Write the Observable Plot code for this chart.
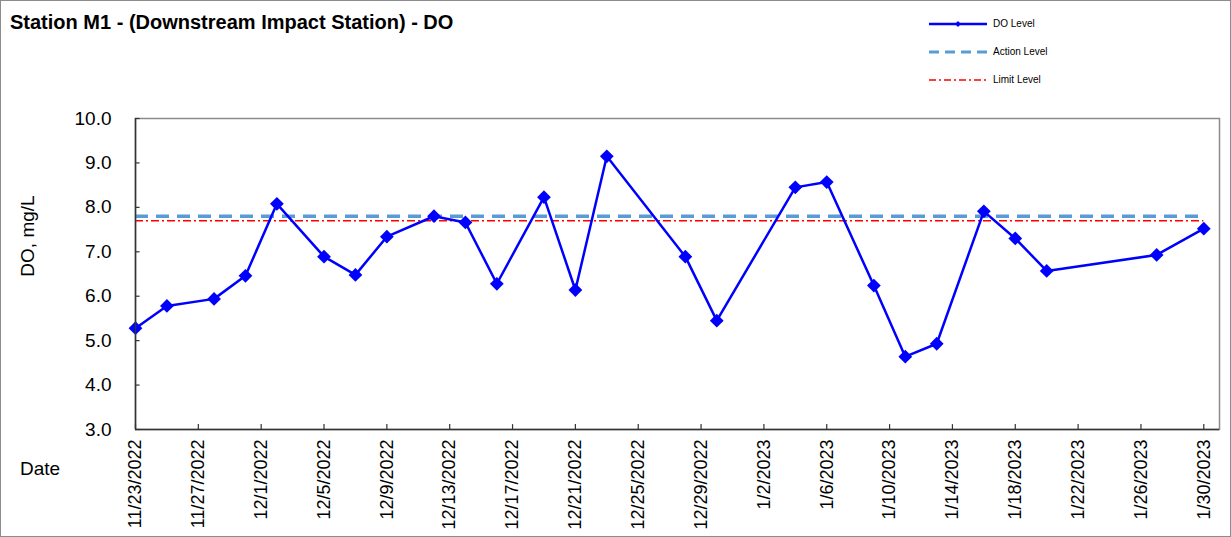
<!DOCTYPE html>
<html>
<head>
<meta charset="utf-8">
<script src="https://cdn.jsdelivr.net/npm/d3@7"></script>
<script src="https://cdn.jsdelivr.net/npm/@observablehq/plot@0.6"></script>
<style>
  body { margin: 0; background: #fff; font-family: Arial, "Liberation Sans", sans-serif; }
  #wrap { position: relative; width: 1231px; height: 537px; overflow: hidden; background: #fff; }
  #border { position: absolute; left: 0; top: 0; width: 1229px; height: 535px; border: 1px solid #8c8c8c; pointer-events: none; }
  #chart { position: absolute; left: 0; top: 0; }
  #title { position: absolute; left: 10px; top: 11px; font-weight: bold; font-size: 20px; color: #000; white-space: nowrap; }
  #ylabel { position: absolute; left: 28px; top: 236px; transform: translate(-50%, -50%) rotate(-90deg); font-size: 19px; white-space: nowrap; }
  #xlabel { position: absolute; left: 20px; top: 458px; font-size: 19px; }
  .leg { position: absolute; left: 929px; font-size: 10px; color: #000; }
  .leg svg { position: absolute; left: 0; top: -5px; }
  .leg span { position: absolute; left: 64px; top: -6px; white-space: nowrap; }
</style>
</head>
<body>
<div id="wrap">
  <div id="chart"></div>
  <div id="title">Station M1 - (Downstream Impact Station) - DO</div>
  <div id="ylabel">DO, mg/L</div>
  <div id="xlabel">Date</div>
  <div class="leg" style="top:24px"><svg width="60" height="10"><line x1="0" y1="5" x2="58" y2="5" stroke="#0000ff" stroke-width="2.5"/><path d="M29,2 L32,5 L29,8 L26,5 Z" fill="#0000ff"/></svg><span>DO Level</span></div>
  <div class="leg" style="top:52px"><svg width="60" height="10"><line x1="0" y1="5" x2="58" y2="5" stroke="#5b9bd5" stroke-width="3" stroke-dasharray="10,6"/></svg><span>Action Level</span></div>
  <div class="leg" style="top:80px"><svg width="60" height="10"><line x1="0" y1="5" x2="58" y2="5" stroke="#ff0000" stroke-width="1.5" stroke-dasharray="7,3,2,3"/></svg><span>Limit Level</span></div>
  <div id="border"></div>
</div>
<script>
// ---- data ----
const sampleDates = ["2022-11-23","2022-11-25","2022-11-28","2022-11-30","2022-12-02","2022-12-05","2022-12-07","2022-12-09","2022-12-12","2022-12-14","2022-12-16","2022-12-19","2022-12-21","2022-12-23","2022-12-28","2022-12-30","2023-01-04","2023-01-06","2023-01-09","2023-01-11","2023-01-13","2023-01-16","2023-01-18","2023-01-20","2023-01-27","2023-01-30"];
const doValues = [5.28,5.78,5.94,6.46,8.08,6.89,6.48,7.34,7.80,7.66,6.28,8.23,6.14,9.15,6.89,5.45,8.45,8.57,6.24,4.64,4.93,7.91,7.30,6.57,6.93,7.52];
const actionLevel = 7.8;
const limitLevel = 7.7;
const xTickLabels = ["2022-11-23","2022-11-27","2022-12-01","2022-12-05","2022-12-09","2022-12-13","2022-12-17","2022-12-21","2022-12-25","2022-12-29","2023-01-02","2023-01-06","2023-01-10","2023-01-14","2023-01-18","2023-01-22","2023-01-26","2023-01-30"];
const yTickValues = [3,4,5,6,7,8,9,10];
const xDomain = ["2022-11-23","2023-01-31"];
const yDomain = [3,10];

// ---- build ----
const parse = d3.utcParse("%Y-%m-%d");
const data = sampleDates.map((d, i) => ({date: parse(d), value: doValues[i]}));
const xTicks = xTickLabels.map(parse);
const xStart = parse(xDomain[0]);
const first = data[0].date, last = data[data.length - 1].date;
const levels = [{y: actionLevel, x1: first, x2: last}];
const limits = [{y: limitLevel, x1: first, x2: last}];
const yTickMarks = yTickValues.map(v => ({y: v, x1: xStart, x2: d3.utcHour.offset(xStart, 7)}));

const chart = Plot.plot({
  width: 1231,
  height: 537,
  marginLeft: 135,
  marginRight: 12,
  marginTop: 118,
  marginBottom: 108,
  style: {fontFamily: "Arial, 'Liberation Sans', sans-serif", color: "#000", background: "transparent"},
  x: {type: "utc", domain: xDomain.map(parse)},
  y: {domain: yDomain},
  marks: [
    Plot.frame({stroke: "#8c8c8c", strokeWidth: 1.5}),
    Plot.ruleY(levels, {y: "y", x1: "x1", x2: "x2", stroke: "#5b9bd5", strokeWidth: 3.5, strokeDasharray: "13,8"}),
    Plot.ruleY(limits, {y: "y", x1: "x1", x2: "x2", stroke: "#ff0000", strokeWidth: 1.5, strokeDasharray: "8,3,2,3"}),
    Plot.lineY(data, {x: "date", y: "value", stroke: "#0000ff", strokeWidth: 2.5}),
    Plot.dot(data, {x: "date", y: "value", symbol: "diamond2", r: 6.2, fill: "#0000ff", stroke: "none"}),
    Plot.ruleY([yDomain[0]], {stroke: "#333", strokeWidth: 1.5}),
    Plot.ruleX([xStart], {stroke: "#333", strokeWidth: 1.5}),
    Plot.axisY({ticks: yTickValues, tickFormat: d => d.toFixed(1), tickSize: 0, tickPadding: 24, fontSize: 19, label: null}),
    Plot.ruleY(yTickMarks, {y: "y", x1: "x1", x2: "x2", stroke: "#333", strokeWidth: 1.2}),
    Plot.axisX({ticks: xTicks, tickFormat: d3.utcFormat("%-m/%-d/%Y"), tickRotate: -90, tickSize: 0, tickPadding: 10, fontSize: 18, label: null}),
    Plot.ruleX(xTicks, {y1: yDomain[0], y2: yDomain[0] + 0.11, stroke: "#333", strokeWidth: 1.2})
  ]
});
document.getElementById("chart").appendChild(chart);
</script>
</body>
</html>
